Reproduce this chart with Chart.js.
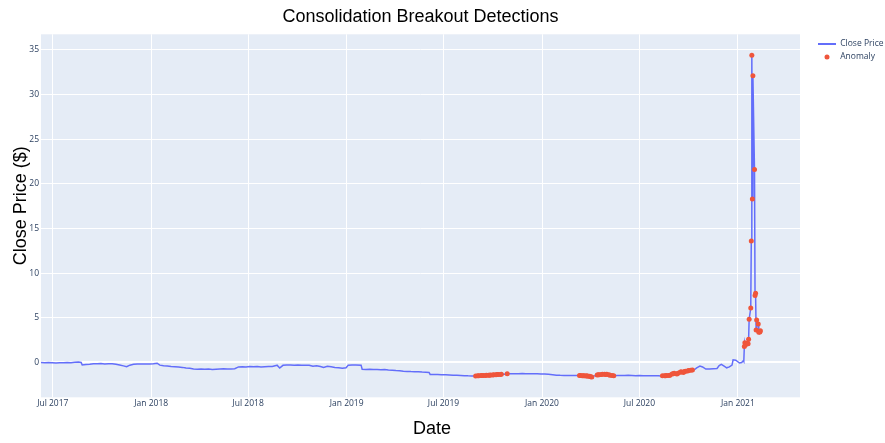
<!DOCTYPE html>
<html>
<head>
<meta charset="utf-8">
<script src="https://cdn.jsdelivr.net/npm/chart.js@4.4.1/dist/chart.umd.min.js"></script>
<style>
html,body{margin:0;padding:0;background:#ffffff;}
#wrap{width:885px;height:443px;position:relative;}
</style>
</head>
<body>
<div id="wrap"><canvas id="c" width="885" height="443"></canvas></div>
<script>
// ---------- DATA ----------
const chartTitle = 'Consolidation Breakout Detections';
const xTitle = 'Date';
const yTitle = 'Close Price ($)';
const seriesNames = ['Close Price', 'Anomaly'];

// Close price on days not flagged as anomalies
const closeDates = [
 '2017-06-09','2017-06-16','2017-06-23','2017-06-30','2017-07-07','2017-07-14','2017-07-21','2017-07-28',
 '2017-08-04','2017-08-11','2017-08-18','2017-08-23','2017-08-25','2017-09-01','2017-09-08','2017-09-15',
 '2017-09-22','2017-09-29','2017-10-06','2017-10-13','2017-10-20','2017-10-27','2017-11-03','2017-11-10',
 '2017-11-16','2017-11-22','2017-11-29','2017-12-06','2017-12-13','2017-12-20','2017-12-29',
 '2018-01-05','2018-01-12','2018-01-17','2018-01-24','2018-01-31','2018-02-07','2018-02-14','2018-02-21',
 '2018-02-28','2018-03-07','2018-03-14','2018-03-21','2018-03-28','2018-04-04','2018-04-11','2018-04-18',
 '2018-04-25','2018-05-02','2018-05-09','2018-05-16','2018-05-23','2018-05-30','2018-06-06','2018-06-13',
 '2018-06-20','2018-06-27','2018-07-04','2018-07-11','2018-07-18','2018-07-25','2018-08-01','2018-08-08',
 '2018-08-15','2018-08-22','2018-08-24','2018-08-29','2018-09-04','2018-09-11','2018-09-18','2018-09-25',
 '2018-10-02','2018-10-09','2018-10-16','2018-10-23','2018-10-30','2018-11-06','2018-11-13','2018-11-19',
 '2018-11-26','2018-12-03','2018-12-10','2018-12-17','2018-12-24','2018-12-31',
 '2019-01-04','2019-01-11','2019-01-18','2019-01-28','2019-01-30','2019-02-06','2019-02-13','2019-02-20',
 '2019-02-27','2019-03-06','2019-03-13','2019-03-20','2019-03-27','2019-04-03','2019-04-10','2019-04-17',
 '2019-04-24','2019-05-01','2019-05-08','2019-05-15','2019-05-22','2019-05-29','2019-06-04','2019-06-06',
 '2019-06-13','2019-06-20','2019-06-27','2019-07-05','2019-07-12','2019-07-19','2019-07-26','2019-08-02',
 '2019-08-09','2019-08-16','2019-08-23','2019-10-23','2019-11-04','2019-11-11','2019-11-18','2019-11-25',
 '2019-12-02','2019-12-09','2019-12-16','2019-12-23','2019-12-30',
 '2020-01-06','2020-01-13','2020-01-21','2020-01-28','2020-02-04','2020-02-11','2020-02-18','2020-02-25',
 '2020-03-03','2020-03-06','2020-04-08','2020-05-20','2020-05-27','2020-06-03','2020-06-10','2020-06-17',
 '2020-06-24','2020-07-01','2020-07-08','2020-07-15','2020-07-22','2020-07-29','2020-08-05','2020-08-10',
 '2020-10-12','2020-10-16','2020-10-22','2020-10-27','2020-11-02','2020-11-09','2020-11-16','2020-11-23',
 '2020-11-27','2020-12-01','2020-12-07','2020-12-11','2020-12-16','2020-12-21','2020-12-23','2020-12-28',
 '2021-01-04','2021-01-08','2021-01-11','2021-01-12'
];
const closeValues = [
 0.00,-0.03,0.00,-0.02,-0.05,-0.02,-0.04,0.00,
 -0.02,0.03,0.05,0.00,-0.28,-0.22,-0.20,-0.15,
 -0.13,-0.12,-0.16,-0.14,-0.15,-0.20,-0.28,-0.38,
 -0.47,-0.30,-0.20,-0.18,-0.16,-0.18,-0.17,
 -0.15,-0.08,-0.30,-0.36,-0.40,-0.45,-0.47,-0.50,
 -0.55,-0.62,-0.66,-0.72,-0.76,-0.74,-0.77,-0.73,
 -0.78,-0.75,-0.72,-0.70,-0.74,-0.72,-0.70,-0.50,
 -0.47,-0.50,-0.45,-0.48,-0.46,-0.50,-0.47,-0.45,
 -0.44,-0.35,-0.30,-0.62,-0.32,-0.28,-0.27,-0.30,
 -0.29,-0.31,-0.30,-0.32,-0.42,-0.36,-0.45,-0.55,
 -0.42,-0.48,-0.55,-0.58,-0.65,-0.60,
 -0.30,-0.27,-0.28,-0.30,-0.76,-0.78,-0.77,-0.80,
 -0.80,-0.82,-0.80,-0.84,-0.86,-0.90,-0.93,-0.97,
 -1.00,-1.02,-1.03,-1.05,-1.08,-1.10,-1.12,-1.34,
 -1.35,-1.36,-1.37,-1.38,-1.40,-1.42,-1.44,-1.46,
 -1.48,-1.50,-1.51,-1.32,-1.27,-1.25,-1.26,-1.24,
 -1.27,-1.25,-1.27,-1.26,-1.30,
 -1.30,-1.33,-1.38,-1.42,-1.44,-1.45,-1.45,-1.46,
 -1.47,-1.47,-1.50,-1.46,-1.45,-1.47,-1.44,-1.46,
 -1.48,-1.47,-1.50,-1.49,-1.50,-1.50,-1.50,-1.51,
 -0.80,-0.60,-0.40,-0.50,-0.74,-0.72,-0.70,-0.68,
 -0.35,-0.22,-0.45,-0.60,-0.50,-0.30,0.30,0.25,
 -0.06,0.00,0.20,0.10
];

// Days flagged as anomalies (they also lie on the close price line)
const anomalyDates = [
 '2019-08-30','2019-09-03','2019-09-05','2019-09-09','2019-09-11','2019-09-13','2019-09-17','2019-09-19',
 '2019-09-23','2019-09-25','2019-09-27','2019-10-01','2019-10-03','2019-10-07','2019-10-09','2019-10-11',
 '2019-10-15','2019-10-17','2019-10-28',
 '2020-03-11','2020-03-13','2020-03-16','2020-03-18','2020-03-20','2020-03-23','2020-03-25','2020-03-27',
 '2020-03-30','2020-04-01','2020-04-03',
 '2020-04-13','2020-04-15','2020-04-17','2020-04-21','2020-04-23','2020-04-27','2020-04-29','2020-05-01',
 '2020-05-05','2020-05-07','2020-05-11','2020-05-14',
 '2020-08-13','2020-08-17','2020-08-19','2020-08-21','2020-08-25','2020-08-27','2020-08-31','2020-09-02',
 '2020-09-04','2020-09-09','2020-09-11','2020-09-15','2020-09-17','2020-09-21','2020-09-23','2020-09-25',
 '2020-09-29','2020-10-01','2020-10-05','2020-10-08',
 '2021-01-13','2021-01-14','2021-01-15','2021-01-19','2021-01-20','2021-01-21','2021-01-22','2021-01-25',
 '2021-01-26','2021-01-27','2021-01-28','2021-01-29','2021-02-01','2021-02-02','2021-02-03','2021-02-04',
 '2021-02-05','2021-02-08','2021-02-09','2021-02-10','2021-02-11','2021-02-12'
];
const anomalyValues = [
 -1.51,-1.50,-1.48,-1.47,-1.46,-1.45,-1.46,-1.44,
 -1.42,-1.43,-1.40,-1.41,-1.38,-1.37,-1.36,-1.35,
 -1.34,-1.33,-1.26,
 -1.45,-1.47,-1.50,-1.48,-1.50,-1.52,-1.50,-1.53,
 -1.55,-1.60,-1.62,
 -1.40,-1.38,-1.37,-1.36,-1.33,-1.32,-1.34,-1.33,
 -1.38,-1.42,-1.45,-1.50,
 -1.50,-1.49,-1.48,-1.47,-1.45,-1.42,-1.30,-1.25,
 -1.22,-1.30,-1.22,-1.10,-1.05,-1.12,-1.00,-0.98,
 -0.95,-0.90,-0.88,-0.85,
 1.80,2.20,1.95,2.15,2.10,2.60,4.84,6.10,
 13.60,34.40,18.30,32.10,21.60,7.50,7.75,3.64,
 4.76,4.30,3.38,3.45,3.42,3.55
];

const xTickDates = ['2017-07-01','2018-01-01','2018-07-01','2019-01-01','2019-07-01','2020-01-01','2020-07-01','2021-01-01'];
const xTickLabels = ['Jul 2017','Jan 2018','Jul 2018','Jan 2019','Jul 2019','Jan 2020','Jul 2020','Jan 2021'];
const yTickValues = [0, 5, 10, 15, 20, 25, 30, 35];
const xRange = ['2017-06-09', '2021-04-27'];
const yRange = [-3.9, 36.75];

// ---------- STYLE ----------
const lineColor = '#636EFA';
const anomalyColor = '#EF553B';
const plotBg = '#E5ECF6';
const textColor = '#2a3f5f';

// ---------- BUILD ----------
const t = d => Date.parse(d + 'T00:00:00Z');
const anomalyPts = anomalyDates.map((d, i) => ({x: t(d), y: anomalyValues[i]}));
const linePts = closeDates.map((d, i) => ({x: t(d), y: closeValues[i]}))
  .concat(anomalyPts.map(p => ({x: p.x, y: p.y})))
  .sort((a, b) => a.x - b.x);

const dot = document.createElement('canvas');
dot.width = 6; dot.height = 6;
(function(){ const c = dot.getContext('2d'); c.fillStyle = anomalyColor; c.beginPath(); c.arc(3, 3, 2.5, 0, Math.PI * 2); c.fill(); })();

const bgPlugin = {
  id: 'plotBg',
  beforeDraw(chart) {
    const {ctx, chartArea: a} = chart;
    ctx.save();
    ctx.fillStyle = '#ffffff';
    ctx.fillRect(0, 0, chart.width, chart.height);
    ctx.fillStyle = plotBg;
    ctx.fillRect(a.left, a.top, a.right - a.left, a.bottom - a.top);
    ctx.restore();
  }
};

// place the legend and nudge the axis titles to where the reference has them
const placePlugin = {
  id: 'placeBoxes',
  beforeLayout(chart) {
    const lg = chart.legend;
    if (lg && !lg._patched) {
      const orig = lg.fit;
      lg.fit = function() { orig.call(this); this.width = 85; };
      lg._patched = true;
    }
  },
  afterLayout(chart) {
    const lg = chart.legend;
    if (lg) { lg.left = 813.5; lg.right = 898.5; lg.top = 35.25; }
    const shift = (scale, key1, key2, d) => {
      if (!scale || scale._titlePatched) return;
      const orig = scale.drawTitle;
      scale.drawTitle = function() {
        this[key1] += d; this[key2] += d;
        orig.call(this);
        this[key1] -= d; this[key2] -= d;
      };
      scale._titlePatched = true;
    };
    shift(chart.scales.x, 'left', 'right', 11.5);
    shift(chart.scales.y, 'top', 'bottom', -10);
  }
};

const tickFont = {family: 'Open Sans', size: 8.5};
const titleFont = {family: 'Liberation Sans', size: 18, weight: 'normal'};

new Chart(document.getElementById('c'), {
  type: 'line',
  data: {
    datasets: [
      {
        label: seriesNames[0], data: linePts, order: 1,
        borderColor: lineColor, backgroundColor: lineColor, borderWidth: 1.5,
        pointRadius: 0, tension: 0, fill: false
      },
      {
        label: seriesNames[1], data: anomalyPts, order: 0, showLine: false,
        pointRadius: 2.5, pointBorderWidth: 0, pointBackgroundColor: anomalyColor,
        pointBorderColor: anomalyColor, backgroundColor: anomalyColor, borderColor: anomalyColor
      }
    ]
  },
  options: {
    responsive: false, animation: false, devicePixelRatio: 1,
    layout: {padding: 0},
    events: [],
    plugins: {
      title: {
        display: true, text: chartTitle, fullSize: false, color: '#000000',
        font: titleFont, padding: {top: 6.4, bottom: 6.3}
      },
      legend: {
        position: 'right', align: 'start',
        labels: {
          usePointStyle: true, pointStyleWidth: 18, padding: 4.5,
          color: textColor, font: tickFont,
          generateLabels: () => [
            {text: seriesNames[0], pointStyle: 'line', strokeStyle: lineColor, fillStyle: lineColor, lineWidth: 2, datasetIndex: 0, hidden: false, fontColor: textColor},
            {text: seriesNames[1], pointStyle: dot, strokeStyle: anomalyColor, fillStyle: anomalyColor, lineWidth: 0, datasetIndex: 1, hidden: false, fontColor: textColor}
          ]
        }
      },
      tooltip: {enabled: false}
    },
    scales: {
      x: {
        type: 'linear', min: t(xRange[0]), max: t(xRange[1]),
        afterBuildTicks: s => { s.ticks = xTickDates.map(d => ({value: t(d)})); },
        afterFit: s => { s.height = 45.7; },
        ticks: {
          autoSkip: false, maxRotation: 0, minRotation: 0, padding: 1,
          font: tickFont, color: textColor,
          callback: v => { const i = xTickDates.findIndex(d => t(d) === v); return i >= 0 ? xTickLabels[i] : ''; }
        },
        grid: {color: '#ffffff', lineWidth: 1, drawTicks: false},
        border: {display: false},
        title: {display: true, text: xTitle, color: '#000000', font: titleFont, padding: {top: 0, bottom: 2.9}}
      },
      y: {
        type: 'linear', min: yRange[0], max: yRange[1],
        afterBuildTicks: s => { s.ticks = yTickValues.map(v => ({value: v})); },
        afterFit: s => { s.width = 41; },
        ticks: {padding: 2, font: tickFont, color: textColor, callback: v => String(v)},
        grid: {color: '#ffffff', lineWidth: c => (c.tick && c.tick.value === 0 ? 2 : 1), drawTicks: false},
        border: {display: false},
        title: {display: true, text: yTitle, color: '#000000', font: titleFont, padding: {top: 10, bottom: 0}}
      }
    }
  },
  plugins: [bgPlugin, placePlugin]
});
</script>
</body>
</html>
